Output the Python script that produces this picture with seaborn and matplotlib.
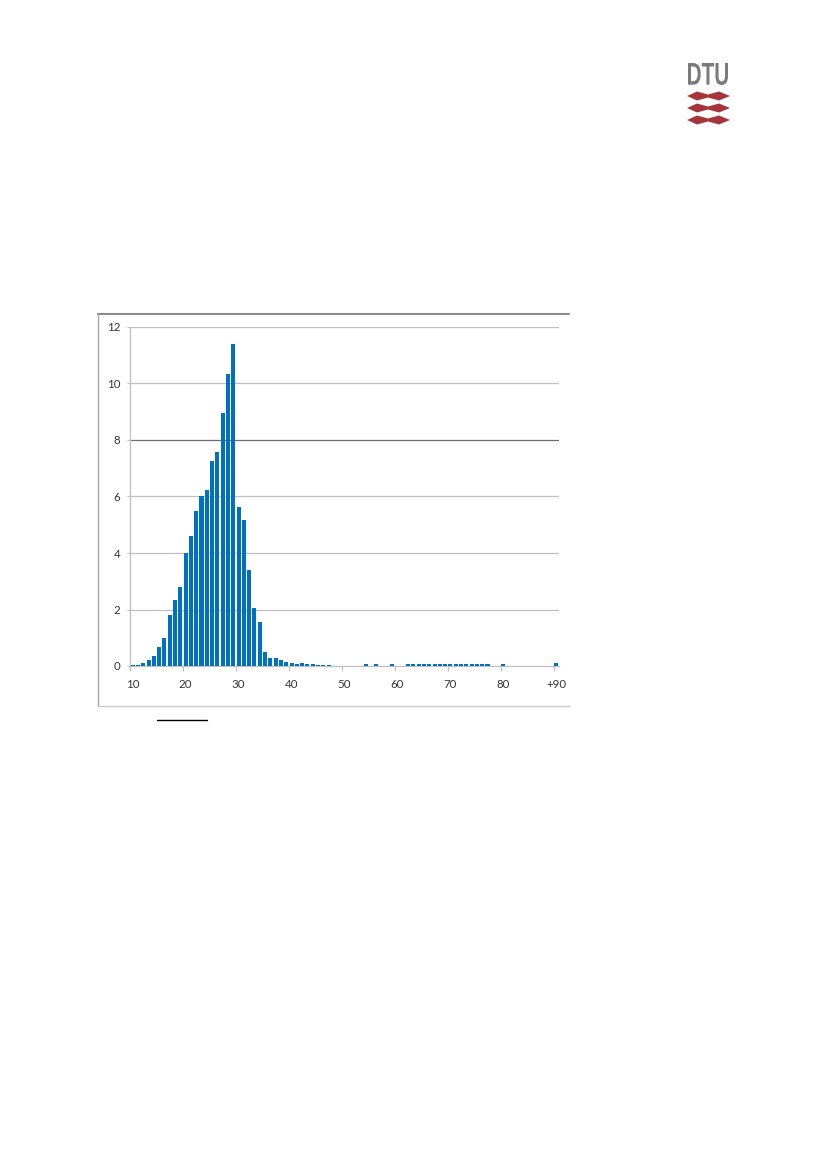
import matplotlib
matplotlib.use("Agg")
import matplotlib.pyplot as plt
import seaborn as sns
import pandas as pd
import numpy as np
from matplotlib.lines import Line2D
from matplotlib.patches import Polygon, PathPatch
from matplotlib.textpath import TextPath
from matplotlib.font_manager import FontProperties
from matplotlib.transforms import Affine2D

# ---------------- data ----------------
categories = list(range(10, 91))  # 10 ... 90 (+90)
values = [
    0.04, 0.05, 0.09, 0.20, 0.34, 0.66, 1.00, 1.82, 2.34, 2.81,   # 10-19
    4.01, 4.61, 5.50, 6.03, 6.24, 7.26, 7.59, 8.94, 10.34, 11.39,  # 20-29
    5.63, 5.18, 3.39, 2.04, 1.54, 0.48, 0.30, 0.28, 0.22, 0.14,   # 30-39
    0.10, 0.06, 0.10, 0.06, 0.06, 0.05, 0.05, 0.05, 0.0, 0.0,     # 40-49
    0.0, 0.0, 0.0, 0.0, 0.06, 0.0, 0.06, 0.0, 0.0, 0.06,          # 50-59
    0.0, 0.0, 0.06, 0.06, 0.06, 0.08, 0.06, 0.06, 0.06, 0.06,     # 60-69
    0.06, 0.06, 0.06, 0.06, 0.06, 0.06, 0.06, 0.06, 0.0, 0.0,     # 70-79
    0.06, 0.0, 0.0, 0.0, 0.0, 0.0, 0.0, 0.0, 0.0, 0.0,            # 80-89
    0.11,                                                         # 90
]
tick_labels = ["10", "20", "30", "40", "50", "60", "70", "80", "+90"]
y_ticks = [0, 2, 4, 6, 8, 10, 12]

df = pd.DataFrame({"cat": [str(c) for c in categories], "val": values})

# ---------------- figure ----------------
W, H = 827, 1169
sns.set_theme(style="white")
plt.rcParams["font.family"] = ["Lato", "DejaVu Sans"]

fig = plt.figure(figsize=(W / 100, H / 100), dpi=100)
fig.patch.set_facecolor("white")

def fx(px):
    return px / W

def fy(py):
    return 1 - py / H

ax_l, ax_r, ax_t, ax_b = 130, 559, 327, 666
ax = fig.add_axes([fx(ax_l), fy(ax_b), (ax_r - ax_l) / W, (ax_b - ax_t) / H])
ax.set_facecolor("white")

sns.barplot(data=df, x="cat", y="val", order=df["cat"].tolist(),
            color="#0070C0", saturation=1, width=0.76, ax=ax, zorder=3,
            linewidth=0)

ax.set_xlim(-0.5, len(categories) - 0.5)
ax.set_ylim(0, 12)
ax.set_xlabel("")
ax.set_ylabel("")

# grid lines
ax.set_yticks(y_ticks)
ax.set_yticklabels([str(t) for t in y_ticks])
for t in y_ticks[1:]:
    col = "#6f6f6f" if t == 8 else "#c0c0c0"
    ax.axhline(t, color=col, lw=0.9, zorder=1)

# x ticks: labels at category centres, tick marks at category boundaries
label_pos = [categories.index(c) for c in [10, 20, 30, 40, 50, 60, 70, 80, 90]]
ax.set_xticks(label_pos)
ax.set_xticklabels(tick_labels)
ax.set_xticks([p - 0.5 for p in label_pos], minor=True)
ax.tick_params(axis="x", which="major", length=0, pad=9, labelsize=8.3, labelcolor="#333333")
ax.tick_params(axis="x", which="minor", length=3.5, width=0.8, color="#bfbfbf", direction="out", bottom=True)
ax.tick_params(axis="y", which="major", length=2.5, width=0.8, color="#bfbfbf", direction="out",
               pad=4.5, labelsize=8.3, labelcolor="#333333", left=True)

for s in ["top", "right"]:
    ax.spines[s].set_visible(False)
for s in ["left", "bottom"]:
    ax.spines[s].set_color("#bfbfbf")
    ax.spines[s].set_linewidth(0.9)
    ax.spines[s].set_zorder(2)

# ---------------- chart frame ----------------
fig.add_artist(Line2D([fx(98), fx(569)], [fy(314), fy(314)], color="#8c8c8c", lw=1.5))
fig.add_artist(Line2D([fx(98), fx(98)], [fy(314), fy(706)], color="#a6a6a6", lw=1.0))
fig.add_artist(Line2D([fx(98), fx(569)], [fy(706), fy(706)], color="#c8c8c8", lw=1.0))

# short black line below the chart
fig.add_artist(Line2D([fx(157), fx(207)], [fy(720), fy(720)], color="black", lw=1.0))

# ---------------- DTU logo ----------------
tp = TextPath((0, 0), "DTU", size=10, prop=FontProperties(family="Liberation Sans", weight="bold"))
ext = tp.get_extents()
x0, x1, y0, y1 = 688, 728, 63, 85
sx = (x1 - x0) / ext.width
sy = (y1 - y0) / ext.height
tr = (Affine2D().translate(-ext.x0, -ext.y0).scale(sx, sy).translate(x0, H - y1)
      + Affine2D().scale(1 / W, 1 / H) + fig.transFigure)
fig.add_artist(PathPatch(tp, transform=tr, facecolor="#7a7a7a", edgecolor="none"))

red = "#a6343b"
for yc in [96, 108, 120]:
    pts = [(687, yc), (697, yc - 4.5), (708, yc - 1.5), (719, yc - 4.5), (730, yc),
           (719, yc + 4.5), (708, yc + 1.5), (697, yc + 4.5)]
    fig.add_artist(Polygon([(fx(px), fy(py)) for px, py in pts], closed=True,
                           facecolor=red, edgecolor="none", transform=fig.transFigure))

fig.savefig("out.png", dpi=100, facecolor="white")
